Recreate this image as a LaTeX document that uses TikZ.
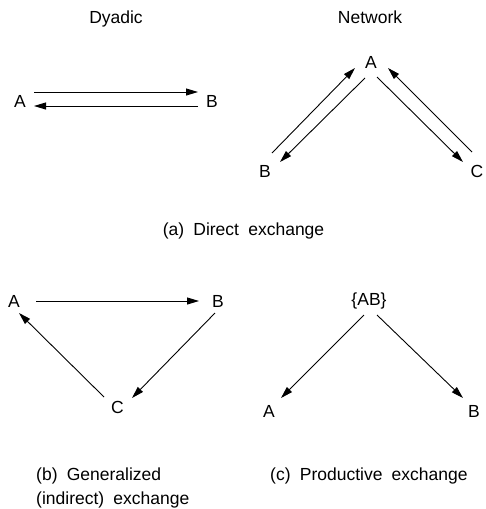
\documentclass[tikz,border=0pt]{standalone}
\usepackage{fontspec}
\setmainfont{Liberation Sans}[WordSpace=1.9]
\usetikzlibrary{arrows.meta}
\tikzset{
  lbl/.style={anchor=base, inner sep=0pt, font=\fontsize{17.5pt}{21pt}\selectfont},
  arr/.style={-{Triangle[length=12pt,width=7pt]}, line width=0.9pt}
}
\begin{document}
\begin{tikzpicture}[x=1pt,y=-1pt]
\useasboundingbox (0,0) rectangle (485,509);
% titles
\node[lbl] (tDy) at (116,23) {Dyadic};
\node[lbl] (tNet) at (370,23) {Network};
% dyadic
\node[lbl] (dA) at (20,107) {A};
\node[lbl] (dB) at (212,107) {B};
\draw[arr] ([shift={(14,-15)}]dA.base) -- ([shift={(-14,-15)}]dB.base);
\draw[arr] ([shift={(-14,-1)}]dB.base) -- ([shift={(14,-1)}]dA.base);
% network
\node[lbl] (nA) at (371,68) {A};
\node[lbl] (nB) at (265,177) {B};
\node[lbl] (nC) at (477,177) {C};
\draw[arr] ([shift={(7,-24)}]nB.base) -- ([shift={(-16,0)}]nA.base);
\draw[arr] ([shift={(-6,10)}]nA.base) -- ([shift={(15,-15)}]nB.base);
\draw[arr] ([shift={(6,9)}]nA.base) -- ([shift={(-14,-15)}]nC.base);
\draw[arr] ([shift={(-5,-25)}]nC.base) -- ([shift={(17,0)}]nA.base);
\node[lbl] (capA) at (243.5,235) {(a) Direct exchange};
% generalized
\node[lbl] (gA) at (14,307) {A};
\node[lbl] (gB) at (218,307) {B};
\node[lbl] (gC) at (117.5,413) {C};
\draw[arr] ([shift={(22,-6)}]gA.base) -- ([shift={(-19,-6)}]gB.base);
\draw[arr] ([shift={(-3,6)}]gB.base) -- ([shift={(14.5,-15)}]gC.base);
\draw[arr] ([shift={(-13.5,-16)}]gC.base) -- ([shift={(5,6)}]gA.base);
% productive
\node[lbl] (pAB) at (369,305) {\{AB\}};
\node[lbl] (pA) at (269,417) {A};
\node[lbl] (pB) at (474,417) {B};
\draw[arr] ([shift={(-5,10)}]pAB.base) -- ([shift={(12,-19)}]pA.base);
\draw[arr] ([shift={(8,10)}]pAB.base) -- ([shift={(-11,-19)}]pB.base);
% captions
\node[lbl, anchor=base west] (capB1) at (36,480) {(b) Generalized};
\node[lbl, anchor=base west] (capB2) at (36,504) {(indirect) exchange};
\node[lbl, anchor=base west] (capC) at (270,480) {(c) Productive exchange};
\end{tikzpicture}
\end{document}
